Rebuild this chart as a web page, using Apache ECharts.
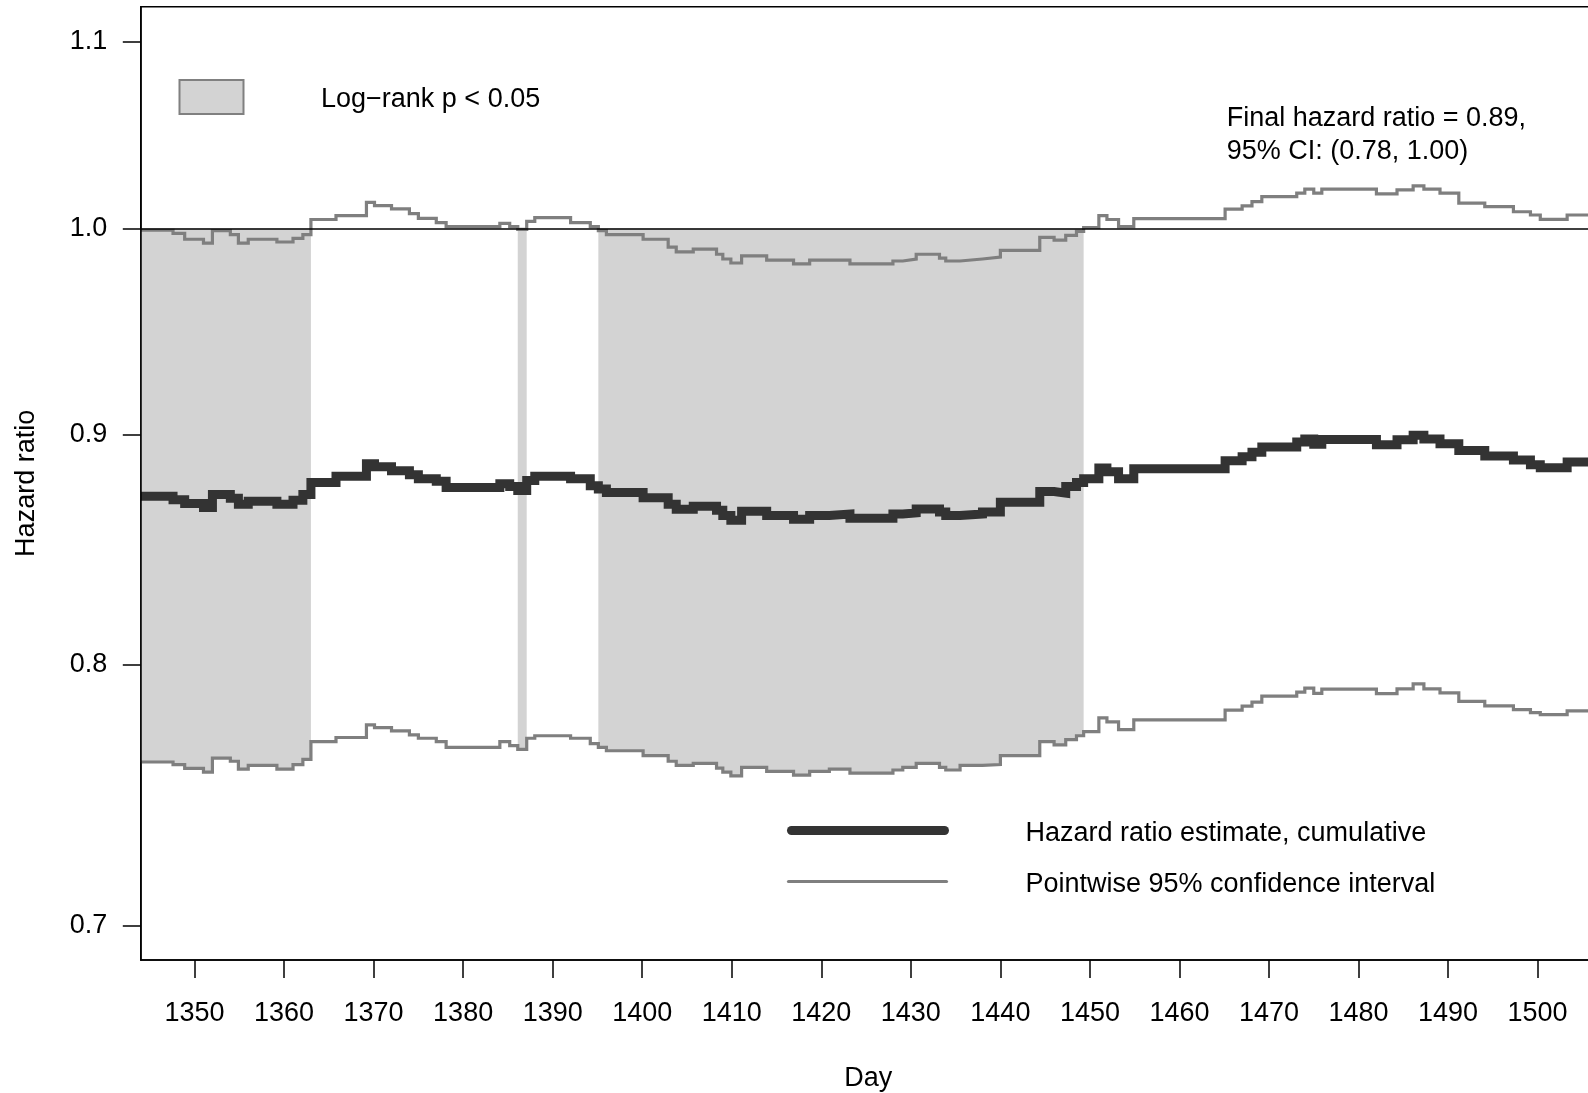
<!DOCTYPE html>
<html>
<head>
<meta charset="utf-8">
<title>Cumulative hazard ratio by day</title>
<script src="https://cdn.jsdelivr.net/npm/echarts@6/dist/echarts.min.js"></script>
<style>
  html, body { margin: 0; padding: 0; background: #ffffff; }
  #chart { width: 1588px; height: 1093px; }
</style>
</head>
<body>
<div id="chart"></div>
<script>
// Day on which each step of the estimate starts; the last entry closes the final step.
const days = [
  1344.0, 1347.6, 1348.9, 1351.0, 1352.0, 1354.0, 1354.9, 1356.0, 1359.2, 1361.0,
  1362.1, 1363.0, 1365.8, 1369.2, 1370.1, 1372.0, 1374.0, 1375.0, 1377.0, 1378.1,
  1384.1, 1385.2, 1386.1, 1387.1, 1388.0, 1392.0, 1394.2, 1395.1, 1396.0, 1400.1,
  1402.9, 1403.8, 1405.7, 1408.3, 1409.0, 1409.9, 1411.1, 1413.9, 1416.9, 1418.7,
  1420.9, 1423.2, 1428.0, 1429.1, 1430.6, 1433.2, 1433.9, 1435.5, 1438.0, 1440.0,
  1444.4, 1446.0, 1447.3, 1448.5, 1449.3, 1451.0, 1451.9, 1453.2, 1454.9, 1465.1,
  1467.0, 1468.1, 1469.2, 1473.1, 1474.0, 1475.0, 1475.9, 1482.0, 1484.3, 1486.1,
  1487.3, 1489.1, 1491.2, 1494.1, 1497.3, 1499.2, 1500.3, 1503.3, 1506.5
];

// Cumulative hazard ratio estimate
const hazardRatio = [
  0.8719, 0.8704, 0.8687, 0.8669, 0.8727, 0.8710, 0.8684, 0.8697, 0.8684, 0.8701,
  0.8727, 0.8781, 0.8809, 0.8865, 0.8852, 0.8834, 0.8816, 0.8798, 0.8786, 0.8758,
  0.8775, 0.8763, 0.8745, 0.8790, 0.8809, 0.8798, 0.8766, 0.8751, 0.8736, 0.8713,
  0.8684, 0.8661, 0.8675, 0.8657, 0.8634, 0.8613, 0.8652, 0.8634, 0.8617, 0.8634,
  0.8640, 0.8622, 0.8640, 0.8645, 0.8662, 0.8649, 0.8634, 0.8640, 0.8649, 0.8692,
  0.8740, 0.8733, 0.8763, 0.8781, 0.8798, 0.8846, 0.8829, 0.8798, 0.8843, 0.8879,
  0.8897, 0.8918, 0.8942, 0.8965, 0.8978, 0.8954, 0.8976, 0.8952, 0.8975, 0.8996,
  0.8978, 0.8956, 0.8926, 0.8900, 0.8882, 0.8861, 0.8847, 0.8873, 0.8873
];

// Pointwise 95% confidence interval, upper bound
const ciUpper = [
  0.9990, 0.9974, 0.9944, 0.9924, 0.9988, 0.9968, 0.9924, 0.9944, 0.9930, 0.9948,
  0.9968, 1.0045, 1.0065, 1.0133, 1.0116, 1.0100, 1.0075, 1.0051, 1.0029, 1.0008,
  1.0025, 1.0008, 0.9994, 1.0035, 1.0055, 1.0029, 1.0008, 0.9988, 0.9968, 0.9944,
  0.9904, 0.9880, 0.9894, 0.9868, 0.9844, 0.9824, 0.9860, 0.9838, 0.9820, 0.9838,
  0.9838, 0.9820, 0.9834, 0.9844, 0.9868, 0.9848, 0.9834, 0.9844, 0.9854, 0.9888,
  0.9954, 0.9940, 0.9964, 0.9984, 1.0004, 1.0065, 1.0045, 1.0008, 1.0049, 1.0098,
  1.0115, 1.0137, 1.0163, 1.0181, 1.0202, 1.0181, 1.0202, 1.0178, 1.0198, 1.0219,
  1.0202, 1.0181, 1.0129, 1.0111, 1.0085, 1.0068, 1.0046, 1.0068, 1.0068
];

// Pointwise 95% confidence interval, lower bound
const ciLower = [
  0.7611, 0.7601, 0.7586, 0.7572, 0.7626, 0.7614, 0.7583, 0.7598, 0.7583, 0.7601,
  0.7621, 0.7691, 0.7707, 0.7757, 0.7746, 0.7733, 0.7717, 0.7704, 0.7691, 0.7668,
  0.7691, 0.7675, 0.7660, 0.7704, 0.7714, 0.7704, 0.7683, 0.7668, 0.7655, 0.7636,
  0.7614, 0.7598, 0.7606, 0.7587, 0.7572, 0.7557, 0.7590, 0.7575, 0.7560, 0.7575,
  0.7583, 0.7568, 0.7580, 0.7590, 0.7606, 0.7590, 0.7580, 0.7598, 0.7601, 0.7636,
  0.7691, 0.7678, 0.7699, 0.7714, 0.7730, 0.7785, 0.7769, 0.7738, 0.7777, 0.7816,
  0.7832, 0.7848, 0.7872, 0.7888, 0.7904, 0.7883, 0.7900, 0.7882, 0.7901, 0.7921,
  0.7901, 0.7885, 0.7851, 0.7833, 0.7818, 0.7806, 0.7798, 0.7813, 0.7813
];

const dayTicks = [1350, 1360, 1370, 1380, 1390, 1400, 1410, 1420, 1430, 1440,
                  1450, 1460, 1470, 1480, 1490, 1500];
const ratioTicks = [0.7, 0.8, 0.9, 1.0, 1.1];
const nullRatio = 1.0;

const FONT = '"Liberation Sans", Arial, Helvetica, sans-serif';
const TEXT = '#000000';
const ln = Math.log;   // the ratio axis is logarithmic: values are plotted as ln(HR)

function stepSeriesData(values) {
  return days.map((d, i) => [d, ln(values[i])]);
}

// Runs of consecutive steps whose upper bound stays below the null ratio
// (log-rank p < 0.05); each run is shaded from the lower bound up to 1.
const sigRuns = [];
for (let i = 0; i < days.length - 1; i++) {
  if (ciUpper[i] < nullRatio) {
    const last = sigRuns[sigRuns.length - 1];
    if (last && last[1] === i - 1) last[1] = i;
    else sigRuns.push([i, i]);
  }
}

function renderShade(params, api) {
  const run = sigRuns[params.dataIndex];
  const first = run[0], last = run[1];
  const top = ln(nullRatio);
  const pts = [api.coord([days[first], top]), api.coord([days[last + 1], top])];
  for (let k = last; k >= first; k--) {
    pts.push(api.coord([days[k + 1], ln(ciLower[k])]));
    pts.push(api.coord([days[k], ln(ciLower[k])]));
  }
  return {
    type: 'polygon',
    shape: { points: pts },
    style: { fill: '#d3d3d3', stroke: null }
  };
}

function stepLine(name, data, color, width, z) {
  return {
    type: 'line', name: name, data: data, step: 'end',
    symbol: 'none', showSymbol: false, silent: true, animation: false,
    clip: true, z: z,
    lineStyle: { color: color, width: width, cap: 'butt', join: 'miter' }
  };
}

const chart = echarts.init(document.getElementById('chart'), null, { renderer: 'canvas' });

chart.setOption({
  animation: false,
  backgroundColor: '#ffffff',
  grid: {
    left: 140.8, top: 6.7, width: 1455, height: 953.3,
    containLabel: false, outerBoundsMode: 'none',
    show: true, borderColor: '#000000', borderWidth: 1.5, backgroundColor: 'transparent'
  },
  xAxis: {
    type: 'value', min: 1344, max: 1506.5,
    axisLine: { show: true, onZero: false, lineStyle: { color: '#000000', width: 1.5 } },
    axisTick: { show: true, inside: false, length: 18, customValues: dayTicks,
                lineStyle: { color: '#000000', width: 1.5 } },
    axisLabel: { show: true, customValues: dayTicks, margin: 40,
                 formatter: v => String(v),
                 fontSize: 27, lineHeight: 27, fontFamily: FONT, color: TEXT },
    splitLine: { show: false },
    name: 'Day', nameLocation: 'middle', nameGap: 105,
    nameTextStyle: { fontSize: 27, lineHeight: 27, fontFamily: FONT, color: TEXT }
  },
  yAxis: {
    type: 'value', min: ln(0.6878), max: ln(1.12), z: 10,
    axisLine: { show: true, onZero: false, lineStyle: { color: '#000000', width: 1.5 } },
    axisTick: { show: true, inside: false, length: 18, customValues: ratioTicks.map(ln),
                lineStyle: { color: '#000000', width: 1.5 } },
    axisLabel: { show: true, customValues: ratioTicks.map(ln), margin: 33.6,
                 formatter: v => Math.exp(v).toFixed(1),
                 fontSize: 27, lineHeight: 27, fontFamily: FONT, color: TEXT },
    splitLine: { show: false },
    name: 'Hazard ratio', nameLocation: 'middle', nameRotate: 90, nameGap: 101,
    nameTextStyle: { fontSize: 27, lineHeight: 27, fontFamily: FONT, color: TEXT }
  },
  series: [
    {
      type: 'custom', name: 'Log-rank p < 0.05', silent: true, animation: false,
      z: 1, clip: true,
      data: sigRuns.map(r => [days[r[0]], days[r[1] + 1], ln(nullRatio)]),
      encode: { x: [0, 1], y: 2 },
      renderItem: renderShade
    },
    Object.assign(stepLine('Upper 95% CI', stepSeriesData(ciUpper), '#7f7f7f', 3.2, 3), {
      markLine: {
        silent: true, animation: false, symbol: ['none', 'none'],
        label: { show: false },
        lineStyle: { color: '#000000', width: 1.5, type: 'solid' },
        emphasis: { disabled: true },
        data: [{ yAxis: ln(nullRatio) }]
      }
    }),
    stepLine('Lower 95% CI', stepSeriesData(ciLower), '#7f7f7f', 3.2, 3),
    stepLine('Hazard ratio estimate, cumulative', stepSeriesData(hazardRatio), '#333333', 9, 4)
  ],
  graphic: [
    { type: 'rect', z: 100, silent: true,
      shape: { x: 179.5, y: 80, width: 64, height: 34 },
      style: { fill: '#d3d3d3', stroke: '#808080', lineWidth: 2 } },
    { type: 'text', z: 100, silent: true, x: 321, y: 100,
      style: { text: 'Log\u2212rank p < 0.05', fontSize: 27, fontFamily: FONT, fill: TEXT,
               align: 'left', verticalAlign: 'middle' } },
    { type: 'text', z: 100, silent: true, x: 1226.7, y: 101.9,
      style: { text: 'Final hazard ratio = 0.89,\n95% CI: (0.78, 1.00)',
               fontSize: 27, lineHeight: 33, fontFamily: FONT, fill: TEXT,
               align: 'left', verticalAlign: 'top' } },
    { type: 'line', z: 100, silent: true,
      shape: { x1: 791.5, y1: 830.5, x2: 944.5, y2: 830.5 },
      style: { stroke: '#333333', lineWidth: 9, lineCap: 'round' } },
    { type: 'line', z: 100, silent: true,
      shape: { x1: 788.5, y1: 881.5, x2: 946.5, y2: 881.5 },
      style: { stroke: '#7f7f7f', lineWidth: 3.2, lineCap: 'round' } },
    { type: 'text', z: 100, silent: true, x: 1025.5, y: 833.8,
      style: { text: 'Hazard ratio estimate, cumulative', fontSize: 27, fontFamily: FONT,
               fill: TEXT, align: 'left', verticalAlign: 'middle' } },
    { type: 'text', z: 100, silent: true, x: 1025.5, y: 884.4,
      style: { text: 'Pointwise 95% confidence interval', fontSize: 27, fontFamily: FONT,
               fill: TEXT, align: 'left', verticalAlign: 'middle' } }
  ]
});
</script>
</body>
</html>
